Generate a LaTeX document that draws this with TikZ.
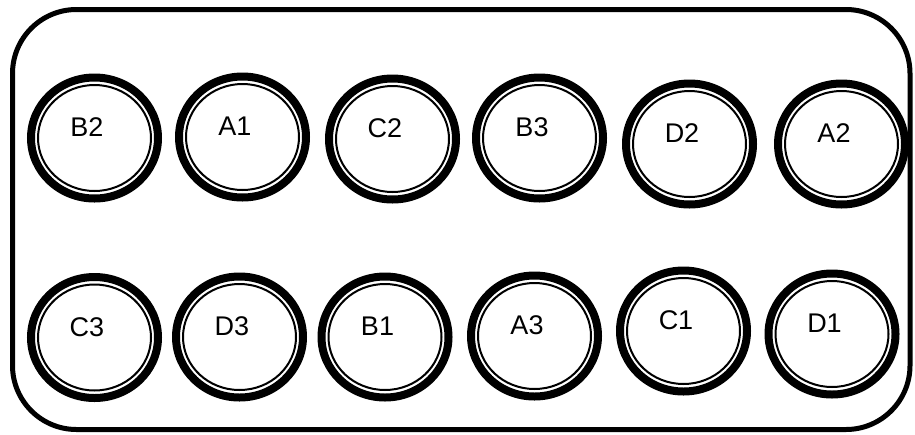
\documentclass[tikz,border=0pt]{standalone}
\usepackage{fontspec}
\setmainfont{Liberation Sans}
\usetikzlibrary{shapes.geometric}

\begin{document}
\begin{tikzpicture}[
  x=0.5pt, y=-0.5pt,
  font=\fontsize{13.5}{16}\selectfont,
  plate/.style={draw=black, line width=2.5pt, rounded corners=32pt},
  well/.style={
    ellipse, draw=black, line width=4pt, fill=white,
    minimum width=63.5pt, minimum height=60.5pt, inner sep=0pt,
    path picture={\draw[line width=1pt] (path picture bounding box.center)
      ellipse [x radius=28.25pt, y radius=26.5pt];},
    label={[wlbl]center:#1}
  },
  wlbl/.style={xshift=-3.75pt, yshift=5.25pt, inner sep=0pt}
]
\useasboundingbox (0,0) rectangle (915,434);

% plate outline
\draw[plate] (12.5,9.5) rectangle (910,429.5);

% top row of wells
\node[well=B2] (b2) at (94.5,138) {};
\node[well=A1] (a1) at (242.5,137) {};
\node[well=C2] (c2) at (392.5,139) {};
\node[well=B3] (b3) at (539.5,138) {};
\node[well=D2] (d2) at (689.5,144) {};
\node[well=A2] (a2) at (841.5,144) {};

% bottom row of wells
\node[well=C3] (c3) at (94.5,337.5) {};
\node[well=D3] (d3) at (239.5,337) {};
\node[well=B1] (b1) at (385,337) {};
\node[well=A3] (a3) at (534.5,336) {};
\node[well=C1] (c1) at (683.5,331) {};
\node[well=D1] (d1) at (832,334) {};

\end{tikzpicture}
\end{document}
